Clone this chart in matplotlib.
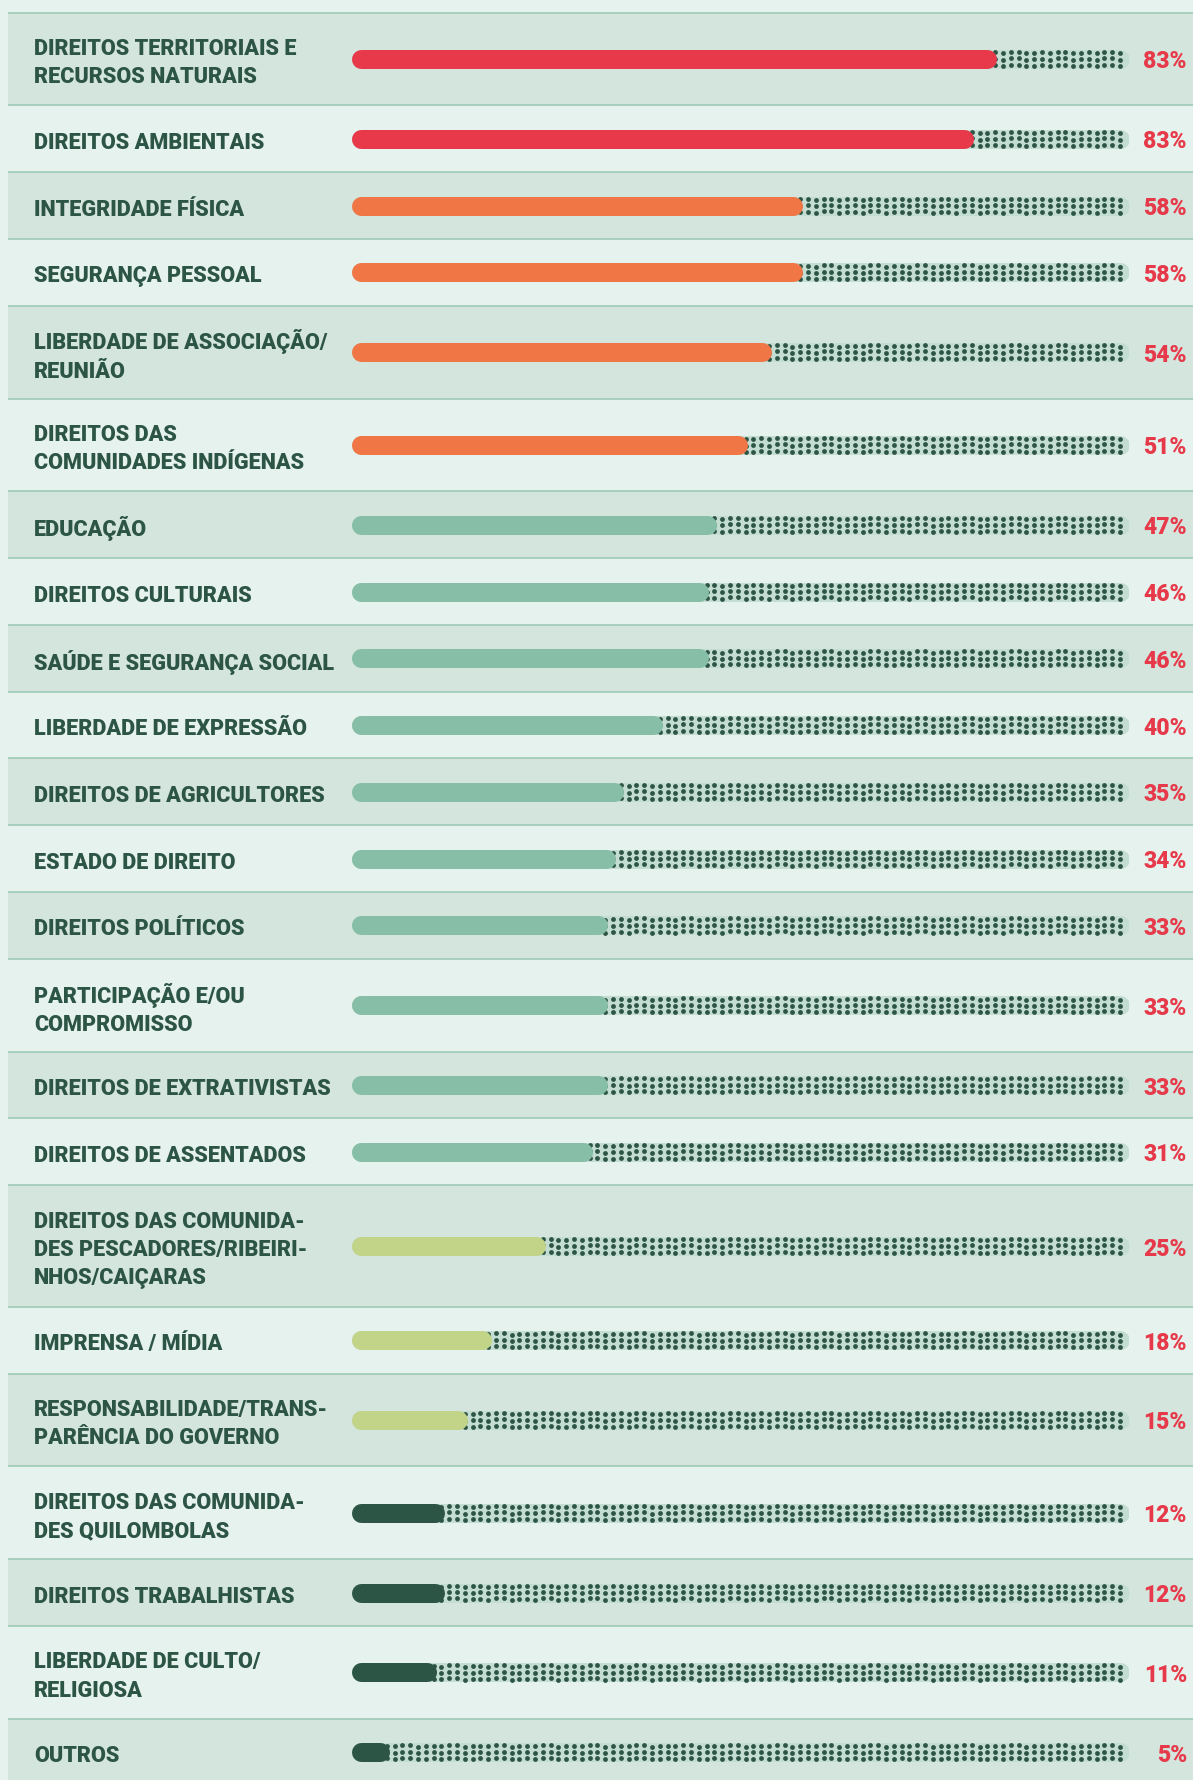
import matplotlib
matplotlib.use("Agg")
import matplotlib.pyplot as plt
from matplotlib.patches import Rectangle

# ---------------- data ----------------
categories = [
    "DIREITOS TERRITORIAIS E\nRECURSOS NATURAIS",
    "DIREITOS AMBIENTAIS",
    "INTEGRIDADE FÍSICA",
    "SEGURANÇA PESSOAL",
    "LIBERDADE DE ASSOCIAÇÃO/\nREUNIÃO",
    "DIREITOS DAS\nCOMUNIDADES INDÍGENAS",
    "EDUCAÇÃO",
    "DIREITOS CULTURAIS",
    "SAÚDE E SEGURANÇA SOCIAL",
    "LIBERDADE DE EXPRESSÃO",
    "DIREITOS DE AGRICULTORES",
    "ESTADO DE DIREITO",
    "DIREITOS POLÍTICOS",
    "PARTICIPAÇÃO E/OU\nCOMPROMISSO",
    "DIREITOS DE EXTRATIVISTAS",
    "DIREITOS DE ASSENTADOS",
    "DIREITOS DAS COMUNIDA-\nDES PESCADORES/RIBEIRI-\nNHOS/CAIÇARAS",
    "IMPRENSA / MÍDIA",
    "RESPONSABILIDADE/TRANS-\nPARÊNCIA DO GOVERNO",
    "DIREITOS DAS COMUNIDA-\nDES QUILOMBOLAS",
    "DIREITOS TRABALHISTAS",
    "LIBERDADE DE CULTO/\nRELIGIOSA",
    "OUTROS",
]
percent_labels = [83, 83, 58, 58, 54, 51, 47, 46, 46, 40, 35, 34, 33, 33, 33, 31, 25, 18, 15, 12, 12, 11, 5]
bar_lengths = [83, 80, 58, 58, 54, 51, 47, 46, 46, 40, 35, 34, 33, 33, 33, 31, 25, 18, 15, 12, 12, 11, 5]

# ---------------- style ----------------
W, H = 1193, 1780
BG_LIGHT = "#e6f2ee"
BG_DARK = "#d4e5de"
SEP = "#9dcab7"
TEXT = "#2d5546"
PCT = "#e63a4a"
TRACK = "#c3ddd2"
DOT = "#2d5546"


def bar_color(v):
    if v >= 80:
        return "#e8394b"
    if v >= 50:
        return "#f07745"
    if v >= 30:
        return "#86bea8"
    if v >= 15:
        return "#c2d487"
    return "#2d5546"


row_h = {1: 66.8, 2: 92.8, 3: 121.5}
top0 = 12.5
panel_x = 8
bar_x0, bar_w = 351, 778
bar_px = 19.0
font = "Roboto"
shift_cycle = [-0.6, -0.6, 0.8, 0.3, -0.2, 0.7]

fig = plt.figure(figsize=(W / 100, H / 100), dpi=100)
fig.patch.set_facecolor(BG_LIGHT)

ax = fig.add_axes([0, 0, 1, 1])
ax.set_xlim(0, W)
ax.set_ylim(H, 0)
ax.axis("off")

axb = fig.add_axes([bar_x0 / W, 0, bar_w / W, 1])
axb.set_xlim(0, 100)
axb.set_ylim(H, 0)
axb.axis("off")
axb.patch.set_alpha(0)

lw_pt = bar_px * 72 / 100
r = (bar_px / 2) * 100 / bar_w  # cap radius in data units
col_step = 7.8 * 100 / bar_w

top = top0
for i, (lab, p, v) in enumerate(zip(categories, percent_labels, bar_lengths)):
    n = lab.count("\n") + 1
    h = row_h[n]
    yc = top + h / 2
    ax.add_patch(Rectangle((panel_x, top), W - panel_x, h,
                           facecolor=BG_DARK if i % 2 == 0 else BG_LIGHT,
                           edgecolor="none", zorder=0))
    ax.plot([panel_x, W], [top, top], color=SEP, lw=1.2, zorder=1,
            solid_capstyle="butt")

    ax.text(34, yc + 4, lab, ha="left", va="center", color=TEXT,
            fontsize=15.6, fontweight="black", family=font, linespacing=1.37)
    ax.text(1187, yc + 3, f"{p}%", ha="right", va="center", color=PCT,
            fontsize=16.5, fontweight="black", family=font)

    # track
    axb.plot([r, 100 - r], [yc, yc], color=TRACK, lw=lw_pt,
             solid_capstyle="round", zorder=2)
    # dotted texture (only in the unfilled part of the track)
    xs, ys = [], []
    k = 0
    x = 0.6
    while x < 100 - 0.3:
        shift = shift_cycle[k % len(shift_cycle)]
        if x > v - 0.8:
            for dy in (-6.4, 0.0, 6.4):
                if x > 100 - r * 0.8 and abs(dy) > 3:
                    continue
                xs.append(x)
                ys.append(yc + dy + shift)
        k += 1
        x += col_step
    axb.scatter(xs, ys, s=12.0, color=DOT, linewidths=0, zorder=3)
    # value bar
    axb.plot([r, max(v - r, r + 0.01)], [yc, yc], color=bar_color(v),
             lw=lw_pt, solid_capstyle="round", zorder=4)

    top += h

fig.savefig("out.png", dpi=100, facecolor=fig.get_facecolor())
